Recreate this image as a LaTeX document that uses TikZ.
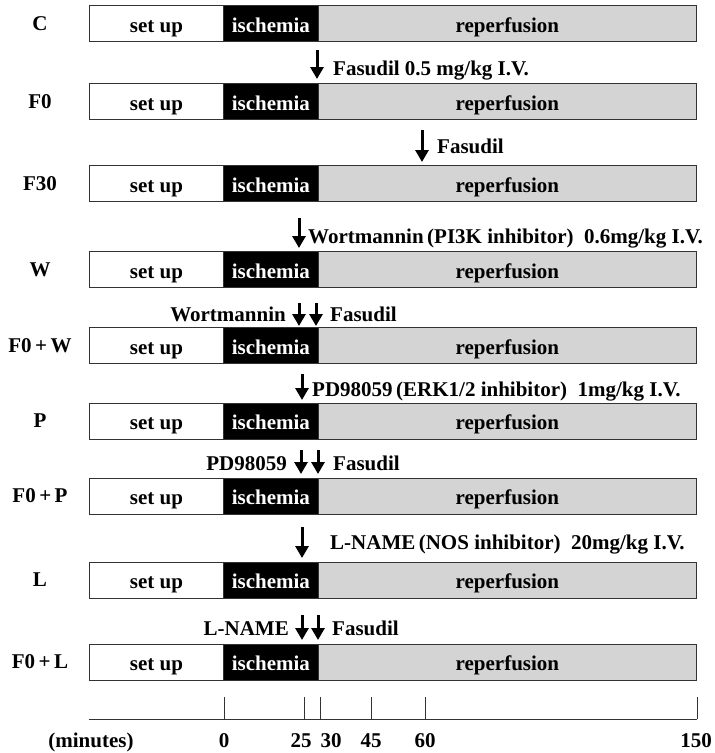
\documentclass[tikz,border=0pt]{standalone}
\usepackage{fontspec}
\setmainfont{Liberation Serif}
\usetikzlibrary{arrows.meta}
\begin{document}
\begin{tikzpicture}[x=1pt,y=-1pt,
  every node/.style={font=\bfseries\fontsize{21}{24}\selectfont},
  seg/.style={draw=black!80, line width=0.8pt, minimum height=36pt, inner sep=0pt,
    text height=17pt, text depth=0pt, anchor=west},
  setupbox/.style={seg, fill=white, minimum width=134pt},
  ischbox/.style={seg, fill=black, text=white, minimum width=95pt},
  repbox/.style={seg, fill=black!17, minimum width=378pt},
  rowlabel/.style={inner sep=0pt},
  drug/.style={-{Triangle[width=13pt,length=12pt]}, line width=3pt},
  note/.style={inner sep=0pt, anchor=base west},
  notel/.style={inner sep=0pt, anchor=base east},
  axisline/.style={draw=black!80, line width=0.8pt},
  ticklab/.style={inner sep=0pt, anchor=base}
]
\useasboundingbox (0,0) rectangle (715,753);

\foreach \n/\lab/\yy in {c/C/23.5, f0/F0/101.5, f30/F30/183.5, w/W/269.5,
    fw/F0\thinspace+\thinspace W/345.5, p/P/421, fp/F0\thinspace+\thinspace P/496,
    l/L/580, fl/F0\thinspace+\thinspace L/662}{
  \node[rowlabel] (\n-lab) at (40,\yy) {\lab};
  \node[setupbox] (\n-s) at (89,\yy) {set up};
  \node[ischbox] (\n-i) at (223,\yy) {ischemia};
  \node[repbox] (\n-r) at (318,\yy) {reperfusion};
}

% F0
\coordinate (a1s) at (317,50); \coordinate (a1e) at (317,79);
\draw[drug] (a1s) -- (a1e);
\node[note] (t1) at (333,75) {Fasudil 0.5 mg/kg I.V.};
% F30
\coordinate (a2s) at (422,130); \coordinate (a2e) at (422,162);
\draw[drug] (a2s) -- (a2e);
\node[note] (t2) at (437,153) {Fasudil};
% W
\coordinate (a3s) at (299,218); \coordinate (a3e) at (299,248);
\draw[drug] (a3s) -- (a3e);
\node[note] (t3) at (308,243) {Wortmannin\thinspace(PI3K inhibitor)\enspace0.6mg/kg I.V.};
% F0+W
\coordinate (a4s) at (299,303); \coordinate (a4e) at (299,326);
\coordinate (a5s) at (316,303); \coordinate (a5e) at (316,326);
\draw[drug] (a4s) -- (a4e);
\draw[drug] (a5s) -- (a5e);
\node[notel] (t4) at (286,321) {Wortmannin};
\node[note] (t5) at (330,321) {Fasudil};
% P
\coordinate (a6s) at (302,374); \coordinate (a6e) at (302,400);
\draw[drug] (a6s) -- (a6e);
\node[note] (t6) at (312,396) {PD98059\thinspace(ERK1/2 inhibitor)\enspace1mg/kg I.V.};
% F0+P
\coordinate (a7s) at (301,450); \coordinate (a7e) at (301,474);
\coordinate (a8s) at (318,450); \coordinate (a8e) at (318,474);
\draw[drug] (a7s) -- (a7e);
\draw[drug] (a8s) -- (a8e);
\node[notel] (t7) at (287,470) {PD98059};
\node[note] (t8) at (333,470) {Fasudil};
% L
\coordinate (a9s) at (302,527); \coordinate (a9e) at (302,558);
\draw[drug] (a9s) -- (a9e);
\node[note] (t9) at (330,549) {L-NAME\thinspace(NOS inhibitor)\enspace20mg/kg I.V.};
% F0+L
\coordinate (a10s) at (302,615); \coordinate (a10e) at (302,640);
\coordinate (a11s) at (318,615); \coordinate (a11e) at (318,640);
\draw[drug] (a10s) -- (a10e);
\draw[drug] (a11s) -- (a11e);
\node[notel] (t10) at (289,635) {L-NAME};
\node[note] (t11) at (332,635) {Fasudil};

% time axis
\draw[axisline] (89,719) -- (697,719);
\foreach \xx in {224, 304, 320, 371, 425, 697}{
  \draw[axisline] (\xx,697) -- (\xx,719);
}
\node[ticklab] (m) at (91,747) {(minutes)};
\node[ticklab] (m0) at (224,747) {0};
\node[ticklab] (m25) at (301,747) {25};
\node[ticklab] (m30) at (331,747) {30};
\node[ticklab] (m45) at (371,747) {45};
\node[ticklab] (m60) at (425,747) {60};
\node[ticklab, anchor=base east] (m150) at (712,747) {150};
\end{tikzpicture}
\end{document}
